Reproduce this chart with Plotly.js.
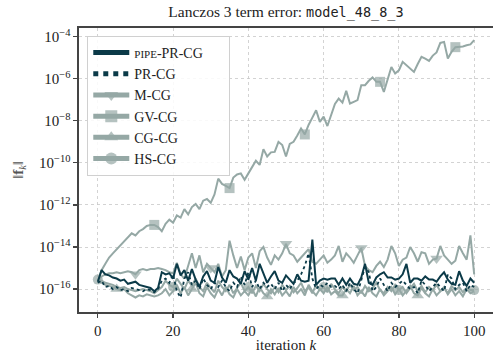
<!DOCTYPE html>
<html>
<head>
<meta charset="utf-8">
<script src="https://cdn.plot.ly/plotly-3.0.1.min.js"></script>
<style>html,body{margin:0;padding:0;background:#fff;}#chart{width:493px;height:353px;}</style>
</head>
<body>
<div id="chart"></div>
<script>
// iteration index k = 0..100
const iterations = Array.from({length: 101}, (_, i) => i);

// log10 of ||f_k||
const pipePrCgLog = [-15.65,-15.1,-15.3,-15.35,-15.45,-15.5,-15.6,-15.55,-15.75,-15.7,
-15.65,-15.8,-15.85,-15.9,-15.95,-16.1,-15.95,-15.2,-15.3,-15.25,
-15.5,-14.8,-15.35,-15.1,-15.6,-15.05,-15.55,-15.9,-15.4,-15.15,
-15.6,-15.7,-14.95,-15.45,-15.7,-15.1,-15.4,-15.5,-15.75,-15.15,
-15.55,-15.0,-15.6,-14.8,-15.3,-15.7,-15.4,-15.15,-15.6,-15.7,
-15.35,-15.55,-15.75,-15.3,-15.6,-15.65,-15.6,-13.65,-15.8,-15.6,
-15.5,-15.55,-15.5,-15.5,-15.8,-15.5,-15.8,-15.5,-15.75,-15.8,
-15.45,-14.8,-15.7,-15.8,-15.45,-15.3,-15.2,-15.45,-15.45,-15.55,
-15.5,-15.3,-14.8,-15.7,-15.5,-15.5,-15.6,-15.4,-15.55,-15.55,
-15.65,-15.4,-15.2,-15.55,-15.75,-15.8,-15.15,-15.6,-15.85,-15.5,-15.7];

const prCgLog = [-15.7,-15.6,-15.9,-15.85,-16.0,-15.9,-16.05,-16.0,-16.1,-15.95,
-16.0,-16.05,-16.1,-16.0,-16.05,-16.15,-16.0,-15.6,-15.5,-15.7,
-15.3,-16.1,-16.4,-15.5,-15.2,-15.8,-15.6,-16.0,-15.5,-15.8,
-16.0,-15.7,-15.9,-15.6,-15.9,-16.1,-15.7,-15.9,-15.4,-15.8,
-15.2,-15.9,-15.6,-16.0,-15.7,-15.9,-15.75,-16.0,-15.7,-16.1,
-15.8,-16.0,-15.7,-15.6,-15.3,-14.9,-14.3,-15.5,-16.0,-15.8,
-15.9,-15.7,-15.9,-15.85,-16.0,-15.8,-16.1,-15.7,-16.0,-16.2,
-15.6,-14.95,-15.2,-16.1,-15.9,-15.5,-15.8,-16.1,-15.7,-15.9,
-15.75,-15.6,-15.8,-16.0,-15.9,-16.2,-15.6,-15.8,-16.1,-15.9,
-15.7,-15.9,-16.1,-15.3,-15.5,-16.0,-15.8,-15.7,-16.1,-15.8,-15.9];

const mCgLog = [-15.65,-15.4,-15.3,-15.25,-15.25,-15.2,-15.25,-15.2,-15.15,-15.2,
-15.3,-15.1,-15.05,-15.1,-15.05,-15.05,-15.0,-15.05,-15.1,-15.2,
-15.25,-14.75,-15.3,-15.5,-14.9,-14.3,-15.0,-14.4,-15.2,-14.8,
-15.0,-15.2,-14.8,-15.4,-15.1,-13.7,-14.4,-15.0,-14.45,-15.1,
-14.5,-14.3,-15.0,-14.2,-14.0,-14.5,-14.85,-14.4,-14.6,-14.3,
-13.85,-14.3,-14.4,-14.7,-14.5,-14.3,-14.1,-14.7,-14.8,-14.6,
-14.4,-14.75,-14.6,-14.4,-13.95,-14.7,-14.3,-14.5,-14.75,-14.4,
-14.05,-14.9,-15.1,-15.2,-14.9,-14.7,-14.95,-14.6,-13.95,-14.3,
-14.9,-14.6,-14.5,-14.0,-14.3,-14.7,-14.25,-14.3,-14.8,-14.6,
-14.55,-13.95,-14.4,-14.6,-14.8,-14.65,-13.95,-14.3,-14.6,-13.45,-15.3];

const gvCgLog = [-15.6,-15.1,-14.8,-14.5,-14.3,-14.1,-13.95,-13.7,-13.5,-13.35,
-13.45,-13.25,-13.15,-13.0,-12.95,-12.95,-13.05,-13.25,-12.9,-12.7,
-12.85,-12.5,-12.6,-12.2,-12.45,-12.1,-11.95,-12.2,-11.8,-11.72,
-11.9,-11.5,-10.75,-11.0,-11.1,-11.2,-10.7,-10.55,-10.5,-10.8,
-10.5,-10.2,-9.9,-10.1,-9.35,-9.7,-9.5,-9.48,-9.0,-9.15,
-9.7,-9.1,-9.0,-8.7,-8.37,-8.65,-8.2,-7.85,-7.5,-8.05,
-7.8,-8.25,-7.7,-7.2,-6.95,-7.14,-6.58,-7.18,-7.1,-7.02,
-6.31,-6.31,-6.1,-5.94,-6.15,-6.15,-6.63,-6.0,-5.44,-5.75,
-5.6,-5.2,-5.35,-5.5,-5.68,-5.3,-4.96,-5.05,-5.15,-4.9,
-4.75,-4.3,-4.25,-5.04,-4.72,-4.5,-4.49,-4.47,-4.41,-4.37,-4.17];

const cgCgLog = [-15.6,-15.7,-15.8,-15.85,-15.9,-16.0,-16.05,-16.0,-16.2,-16.3,
-16.4,-16.3,-16.35,-16.25,-16.3,-16.35,-16.3,-16.2,-16.0,-16.3,
-16.1,-15.8,-16.2,-15.9,-16.3,-16.0,-15.7,-16.2,-16.35,-15.9,
-16.2,-16.4,-16.0,-16.3,-15.9,-16.25,-16.4,-16.0,-16.3,-16.1,
-16.3,-16.0,-16.35,-15.9,-16.2,-16.35,-16.0,-16.25,-15.95,-16.3,
-16.1,-16.35,-15.9,-16.2,-16.0,-16.3,-15.8,-16.1,-16.3,-16.0,
-16.2,-15.9,-16.25,-16.1,-16.3,-16.3,-16.0,-16.2,-15.85,-16.3,
-16.1,-16.35,-15.9,-16.2,-16.35,-16.0,-16.3,-16.1,-15.9,-16.25,
-16.0,-16.3,-16.1,-15.85,-16.2,-16.3,-15.95,-16.2,-16.35,-16.0,
-16.3,-16.1,-15.9,-16.25,-16.0,-16.3,-16.1,-16.35,-16.0,-16.2,-16.1];

const hsCgLog = [-15.55,-15.6,-15.7,-15.75,-15.8,-15.9,-15.95,-15.9,-16.0,-16.05,
-16.1,-16.05,-16.0,-16.05,-16.1,-16.2,-16.05,-15.9,-15.6,-15.8,
-15.9,-15.5,-15.75,-16.0,-15.6,-15.85,-15.5,-15.9,-16.1,-15.7,
-15.95,-16.15,-15.6,-15.9,-16.1,-15.8,-16.2,-15.95,-15.7,-16.1,
-15.9,-16.2,-15.85,-16.1,-15.75,-16.0,-16.2,-15.9,-16.15,-15.8,
-16.05,-15.85,-16.15,-15.95,-15.7,-16.1,-15.9,-16.2,-15.8,-16.05,
-15.9,-16.15,-15.75,-16.0,-16.2,-15.9,-16.1,-15.8,-16.05,-15.9,
-16.2,-15.85,-16.1,-15.95,-15.7,-16.05,-16.2,-15.9,-16.1,-15.8,
-16.05,-15.9,-16.2,-15.95,-15.75,-16.1,-15.85,-16.15,-15.9,-16.05,
-15.8,-16.1,-15.95,-16.2,-15.85,-16.05,-15.9,-16.15,-15.95,-16.05,-16.05];

// marker positions (iterations) for each marked series
const mCgMarks = [10, 30, 50, 70, 90];
const gvCgMarks = [15, 35, 55, 75, 95];
const cgCgMarks = [5, 25, 45, 65, 85];
const hsCgMarks = [0, 20, 40, 60, 80, 100];

const yTickExps = [-16, -14, -12, -10, -8, -6, -4];
const xTickVals = [0, 20, 40, 60, 80, 100];

const DARK = '#0b3a48';
const GREY = '#95a8a5';
const SERIF = 'Liberation Serif, DejaVu Serif, serif';

const toVal = a => a.map(v => Math.pow(10, v));
const sizes = (marks, s) => iterations.map(k => marks.includes(k) ? s : 0);

const greyTrace = (name, logs, marks, symbol, s, rank) => ({
  x: iterations, y: toVal(logs), name: name, mode: 'lines+markers',
  line: {color: GREY, width: 2},
  marker: {color: GREY, symbol: symbol, size: sizes(marks, s), line: {width: 0}},
  legendrank: rank
});

const traces = [
  greyTrace('M-CG', mCgLog, mCgMarks, 'triangle-down', 11, 3),
  greyTrace('GV-CG', gvCgLog, gvCgMarks, 'square', 10, 4),
  greyTrace('CG-CG', cgCgLog, cgCgMarks, 'triangle-up', 11, 5),
  greyTrace('HS-CG', hsCgLog, hsCgMarks, 'circle', 10, 6),
  {x: iterations, y: toVal(prCgLog), name: 'PR-CG', mode: 'lines',
   line: {color: DARK, width: 1.8, dash: 'dot'}, legendrank: 2},
  {x: iterations, y: toVal(pipePrCgLog),
   name: '<span style="font-size:11px">PIPE</span>-PR-CG<span style="color:rgba(255,255,255,0)">xxx</span>', mode: 'lines',
   line: {color: DARK, width: 2}, legendrank: 1}
];

const layout = {
  width: 493, height: 353,
  margin: {l: 79, r: 0, t: 28, b: 41},
  paper_bgcolor: '#fff', plot_bgcolor: '#fff',
  font: {family: SERIF, size: 14, color: '#222'},
  title: {
    text: 'Lanczos 3 term error: <span style="font-family:DejaVu Sans Mono, Liberation Mono, monospace;font-size:13.5px">model_48_8_3</span>',
    x: 0.58, xanchor: 'center', y: 0.966, yanchor: 'middle', yref: 'container',
    font: {family: SERIF, size: 15.5, color: '#222'}
  },
  xaxis: {
    range: [-5, 105], tickvals: xTickVals, ticktext: xTickVals.map(String),
    showline: true, linecolor: '#444', linewidth: 1.6, mirror: true,
    ticks: 'outside', ticklen: 4, tickwidth: 1.2, tickcolor: '#444',
    showgrid: true, gridcolor: '#c8c8c8', gridwidth: 0.8, griddash: 'dot',
    zeroline: false,
    tickfont: {family: SERIF, size: 15, color: '#222'},
    title: {text: 'iteration <i>k</i>', font: {family: SERIF, size: 15, color: '#222'}, standoff: 2}
  },
  yaxis: {
    type: 'log', range: [-17.09, -3.59],
    tickvals: yTickExps.map(e => Math.pow(10, e)),
    ticktext: yTickExps.map(e => '10<sup>\u2212' + Math.abs(e) + '</sup>'),
    showline: true, linecolor: '#444', linewidth: 1.6, mirror: true,
    ticks: 'outside', ticklen: 4, tickwidth: 1.2, tickcolor: '#444',
    showgrid: true, gridcolor: '#c8c8c8', gridwidth: 0.8, griddash: 'dot',
    zeroline: false,
    tickfont: {family: SERIF, size: 15, color: '#222'},
    title: {text: '\u2016<b>f</b><sub><i>k</i></sub>\u2016', font: {family: SERIF, size: 15, color: '#555'}, standoff: 12}
  },
  legend: {
    x: 0.02, y: 0.972, xanchor: 'left', yanchor: 'top',
    bgcolor: 'rgba(255,255,255,0.85)', bordercolor: '#d0d0d0', borderwidth: 1,
    font: {family: SERIF, size: 14, color: '#222'},
    itemsizing: 'constant', tracegroupgap: 0, itemwidth: 36
  },
  showlegend: true
};

Plotly.newPlot('chart', traces, layout, {displayModeBar: false, staticPlot: true});
</script>
</body>
</html>
